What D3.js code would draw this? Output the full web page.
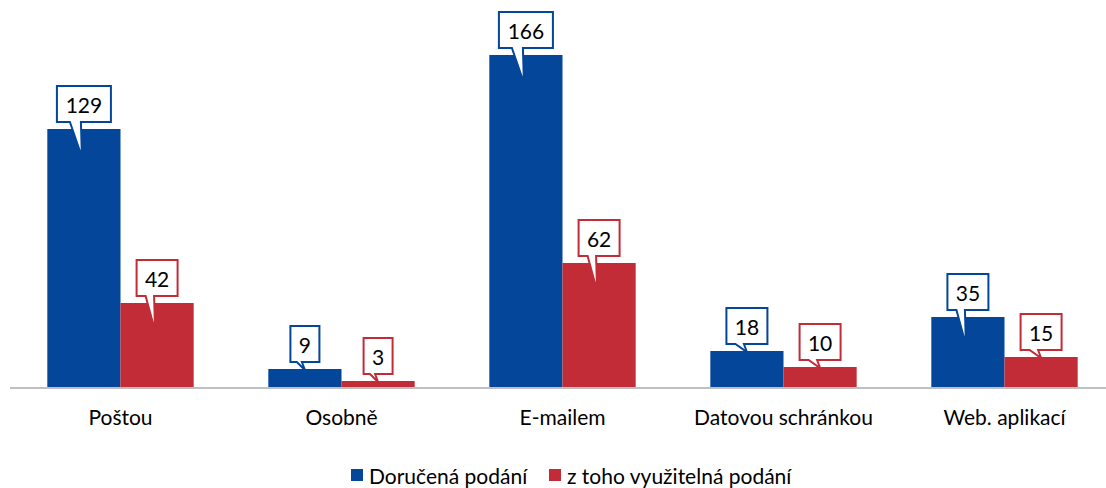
<!DOCTYPE html>
<html>
<head>
<meta charset="utf-8">
<script src="https://cdn.jsdelivr.net/npm/d3@7"></script>
<style>
  html, body { margin: 0; padding: 0; background: #fff; }
  svg { display: block; font-family: Lato, "Open Sans", sans-serif; }
</style>
</head>
<body>
<svg id="chart" width="1106" height="488"></svg>
<script>
// Channels through which submissions arrived
const categories = ["Poštou", "Osobně", "E-mailem", "Datovou schránkou", "Web. aplikací"];
const seriesNames = ["Doručená podání", "z toho využitelná podání"];
const delivered = [129, 9, 166, 18, 35];
const usable = [42, 3, 62, 10, 15];
const seriesColors = ["#03469A", "#C12C37"];
const yMax = 180;

const svg = d3.select("#chart");
const W = 1106;
const baseline = 387;
const fontSize = "21px";

const x0 = d3.scaleBand().domain(categories).range([10, 1115]).padding(0);
const x1 = d3.scaleBand().domain(seriesNames)
  .range([0, x0.bandwidth()]).paddingInner(0).paddingOuter(0.51);
const y = d3.scaleLinear().domain([0, yMax]).range([baseline, baseline - yMax * 2]);

const rows = categories.map((c, i) => ({
  cat: c,
  vals: [
    { s: seriesNames[0], v: delivered[i], k: 0 },
    { s: seriesNames[1], v: usable[i], k: 1 }
  ]
}));

// bars
const groups = svg.append("g").selectAll("g").data(rows).join("g")
  .attr("transform", d => `translate(${x0(d.cat)},0)`);

groups.selectAll("rect").data(d => d.vals).join("rect")
  .attr("x", d => x1(d.s))
  .attr("y", d => y(d.v))
  .attr("width", x1.bandwidth())
  .attr("height", d => y(0) - y(d.v))
  .attr("fill", d => seriesColors[d.k]);

// category axis line
svg.append("line")
  .attr("x1", 10).attr("x2", W)
  .attr("y1", baseline + 1).attr("y2", baseline + 1)
  .attr("stroke", "#BFBFBF").attr("stroke-width", 2);

// category labels
const xAxis = d3.axisBottom(x0).tickSize(0).tickPadding(0);
const axG = svg.append("g").attr("transform", `translate(0,${baseline + 23})`).call(xAxis);
axG.select(".domain").remove();
axG.selectAll("text")
  .attr("dy", "0.71em")
  .style("font-family", "Lato, 'Open Sans', sans-serif")
  .style("font-size", fontSize)
  .attr("fill", "#000");

// value callouts
const boxH = 36, gap = 7;
const callouts = groups.selectAll("g.callout").data(d => d.vals).join("g")
  .attr("class", "callout");

callouts.each(function(d) {
  const g = d3.select(this);
  const cx = x1(d.s) + x1.bandwidth() / 2;
  const top = y(d.v);
  const txt = g.append("text")
    .attr("x", cx)
    .attr("y", top - gap - boxH / 2)
    .attr("text-anchor", "middle")
    .attr("dominant-baseline", "central")
    .style("font-size", fontSize)
    .attr("fill", "#000")
    .text(d.v);
  const tw = txt.node().getComputedTextLength();
  const w = Math.round(tw + 17);
  const bx = cx - w / 2, by = top - gap - boxH, bb = by + boxH;
  const tall = (y(0) - top) > 50;
  const tipX = tall ? cx - 2 : cx;
  const tipY = tall ? top + 28 : top + 1;
  const pL = cx - Math.min(w * 0.28, 14), pR = cx - 3;
  const path = [
    [bx, by], [bx + w, by], [bx + w, bb], [pR, bb], [tipX, tipY], [pL, bb], [bx, bb]
  ];
  g.insert("path", "text")
    .attr("d", "M" + path.map(p => p.join(",")).join("L") + "Z")
    .attr("fill", "#fff")
    .attr("stroke", seriesColors[d.k])
    .attr("stroke-width", 2)
    .attr("stroke-linejoin", "miter");
});

// legend
const legend = svg.append("g").attr("transform", "translate(0,475)");
const legX = [351, 549];
seriesNames.forEach((n, i) => {
  legend.append("rect")
    .attr("x", legX[i]).attr("y", -6)
    .attr("width", 12).attr("height", 12)
    .attr("fill", seriesColors[i]);
  legend.append("text")
    .attr("x", legX[i] + 18).attr("y", 0)
    .attr("dominant-baseline", "central")
    .style("font-size", fontSize)
    .attr("fill", "#000")
    .text(n);
});
</script>
</body>
</html>
